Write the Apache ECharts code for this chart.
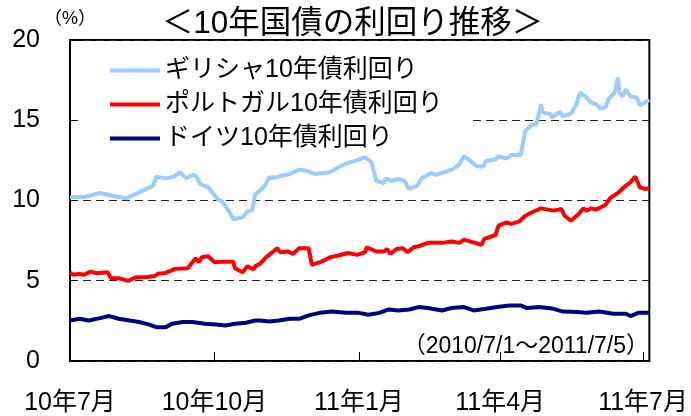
<!DOCTYPE html>
<html>
<head>
<meta charset="utf-8">
<script src="https://cdn.jsdelivr.net/npm/echarts@6/dist/echarts.min.js"></script>
<style>
html,body{margin:0;padding:0;background:#fff;}
#c{width:691px;height:416px;}
</style>
</head>
<body>
<div id="c"></div>
<script>
// x values: days since 2010-07-01
const tickDays = [0, 92, 184, 274, 365];
const tickLabels = ['10年7月', '10年10月', '11年1月', '11年4月', '11年7月'];
const yTicks = [0, 5, 10, 15, 20];
const seriesNames = ['ギリシャ10年債利回り', 'ポルトガル10年債利回り', 'ドイツ10年債利回り'];

const greece = [[0,10.2],[10,10.24],[19,10.47],[27,10.3],[36,10.14],[46,10.6],[53,10.92],[55,11.48],[61,11.38],[66,11.48],[70,11.75],[74,11.38],[78,11.59],[80,11.54],[83,11.03],[88,10.82],[94,10.09],[97,9.93],[101,9.37],[104,8.85],[110,8.95],[113,9.33],[116,9.37],[118,10.4],[121,10.61],[124,10.92],[127,11.44],[131,11.44],[135,11.54],[140,11.65],[146,11.92],[151,11.85],[156,11.65],[165,11.75],[175,12.27],[182,12.48],[188,12.69],[192,12.38],[195,11.23],[200,11.09],[201,11.38],[205,11.23],[209,11.34],[213,11.23],[216,10.72],[221,10.92],[224,11.38],[230,11.71],[233,11.59],[239,11.79],[244,11.96],[248,12.27],[251,12.75],[254,12.54],[259,12.13],[263,12.1],[265,12.48],[271,12.54],[273,12.75],[278,12.62],[281,12.83],[287,12.83],[290,14.34],[294,14.7],[297,14.76],[300,16.0],[301,15.49],[306,15.38],[307,15.17],[312,15.52],[314,15.24],[319,15.42],[322,15.9],[325,16.73],[329,16.42],[332,16.1],[335,16.0],[338,15.73],[341,15.8],[343,16.31],[347,16.73],[349,17.66],[350,16.73],[352,16.48],[354,16.93],[357,16.48],[361,16.42],[363,15.94],[366,16.1],[369,16.27]];

const portugal = [[0,5.53],[2,5.37],[6,5.43],[9,5.37],[13,5.57],[17,5.47],[24,5.53],[26,5.16],[31,5.16],[37,4.99],[42,5.22],[48,5.22],[54,5.29],[56,5.43],[61,5.49],[67,5.74],[75,5.78],[80,6.41],[82,6.16],[84,6.47],[88,6.53],[92,6.16],[97,6.19],[104,6.19],[105,5.78],[110,5.53],[113,5.91],[117,5.7],[118,5.91],[121,6.05],[125,6.47],[129,6.78],[132,7.03],[134,6.78],[139,6.82],[142,6.67],[146,7.03],[152,7.03],[154,5.99],[160,6.19],[166,6.47],[171,6.57],[177,6.73],[183,6.61],[188,6.78],[189,7.09],[195,6.82],[200,6.82],[202,6.98],[204,6.67],[208,6.98],[212,7.03],[215,6.78],[219,7.09],[222,7.15],[228,7.36],[237,7.36],[243,7.44],[248,7.36],[251,7.56],[258,7.36],[262,7.23],[264,7.61],[271,7.85],[273,8.43],[278,8.64],[281,8.54],[286,8.68],[290,9.05],[295,9.3],[300,9.51],[308,9.37],[313,9.47],[315,9.05],[319,8.74],[324,9.16],[327,9.51],[329,9.37],[332,9.51],[335,9.43],[341,9.72],[344,10.14],[349,10.47],[354,10.92],[357,11.13],[360,11.5],[363,10.82],[366,10.72],[369,10.76]];

const germany = [[0,2.52],[6,2.63],[12,2.52],[19,2.67],[25,2.8],[31,2.63],[38,2.52],[44,2.43],[50,2.28],[55,2.11],[61,2.11],[65,2.32],[72,2.43],[78,2.43],[86,2.32],[93,2.28],[99,2.21],[105,2.32],[112,2.38],[118,2.52],[121,2.52],[127,2.46],[133,2.52],[140,2.63],[146,2.63],[152,2.84],[159,3.0],[167,3.08],[176,3.0],[184,3.0],[190,2.88],[197,3.0],[203,3.21],[209,3.15],[216,3.21],[222,3.36],[228,3.3],[237,3.15],[243,3.3],[251,3.36],[257,3.15],[265,3.25],[272,3.36],[280,3.46],[287,3.46],[291,3.3],[299,3.36],[308,3.25],[314,3.08],[323,3.05],[329,3.0],[337,3.08],[346,2.94],[354,2.94],[357,2.8],[362,3.0],[369,3.0]];

const FONT = '"Liberation Sans", "Noto Sans CJK JP", sans-serif';
const chart = echarts.init(document.getElementById('c'), null, {renderer: 'canvas'});
chart.setOption({
  animation: false,
  backgroundColor: '#fff',
  textStyle: {fontFamily: FONT, color: '#000'},
  grid: {left: 70, right: 39, top: 40, bottom: 54, show: true, borderColor: '#000', borderWidth: 2, backgroundColor: 'transparent'},
  graphic: [
    {type: 'text', x: 352.5, y: 24, z: 10, style: {text: '＜10年国債の利回り推移＞', font: '31.5px ' + FONT, fill: '#000', align: 'center', verticalAlign: 'middle', textAlign: 'center', textVerticalAlign: 'middle'}},
    {type: 'text', x: 649, y: 347, z: 10, style: {text: '（2010/7/1～2011/7/5）', font: '23px ' + FONT, fill: '#000', align: 'right', verticalAlign: 'middle', textAlign: 'right', textVerticalAlign: 'middle'}}
  ],
  legend: {
    data: seriesNames,
    orient: 'vertical',
    left: 80, top: 44,
    padding: [14, 29, 2, 30],
    itemGap: 9,
    itemWidth: 50, itemHeight: 4,
    icon: 'rect',
    backgroundColor: '#fff',
    textStyle: {fontSize: 25, fontFamily: FONT, color: '#000', lineHeight: 24}
  },
  xAxis: {
    type: 'value', min: 0, max: 369,
    axisLine: {show: false},
    splitLine: {show: false},
    axisTick: {show: true, inside: true, length: 9, customValues: tickDays, lineStyle: {color: '#000', width: 1}},
    axisLabel: {customValues: tickDays, fontSize: 25, color: '#000', margin: 30, fontFamily: FONT,
      formatter: v => { const i = tickDays.indexOf(v); return i >= 0 ? tickLabels[i] : ''; }}
  },
  yAxis: {
    type: 'value', min: 0, max: 20, interval: 5,
    name: '（%）', nameLocation: 'end', nameGap: 3,
    nameTextStyle: {fontSize: 18, color: '#000', fontFamily: FONT, align: 'center', verticalAlign: 'bottom'},
    axisLine: {show: false},
    axisTick: {show: true, inside: true, length: 7, lineStyle: {color: '#000', width: 1}},
    axisLabel: {fontSize: 25, color: '#000', margin: 30, fontFamily: FONT},
    splitLine: {show: true, lineStyle: {color: '#222', width: 1, type: [8, 5]}}
  },
  series: [
    {name: seriesNames[0], type: 'line', data: greece, showSymbol: false, symbol: 'none', color: '#99CCFF', lineStyle: {width: 4, color: '#99CCFF'}},
    {name: seriesNames[1], type: 'line', data: portugal, showSymbol: false, symbol: 'none', color: '#FF0000', lineStyle: {width: 4, color: '#FF0000'}},
    {name: seriesNames[2], type: 'line', data: germany, showSymbol: false, symbol: 'none', color: '#000080', lineStyle: {width: 4, color: '#000080'}}
  ]
});
</script>
</body>
</html>
